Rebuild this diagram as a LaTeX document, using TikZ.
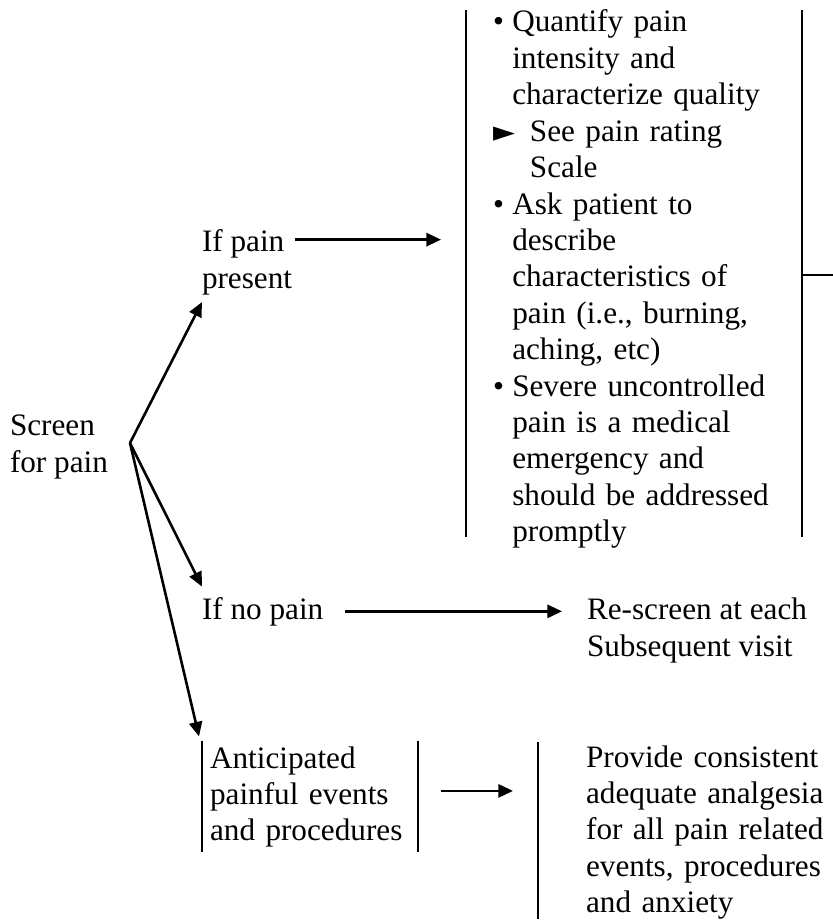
\documentclass[tikz,border=0pt]{standalone}
\usepackage{fontspec}
\setmainfont{Liberation Serif}
\newfontfamily\symfont{DejaVu Sans}
\usepackage{tikz}
\usetikzlibrary{positioning}
\usetikzlibrary{arrows.meta,calc}
\tikzstyle{line} = [draw, line width=1pt, color=black, -{Triangle[length=5.6pt,width=5pt]}]
\tikzstyle{bar} = [draw, line width=0.9pt, color=black]
\newcommand{\bul}{\makebox[7.4pt][l]{\textbullet}}
\newcommand{\ind}{\hspace*{7.4pt}}
\newcommand{\tri}{\makebox[14.2pt][l]{{\symfont\fontsize{11}{11}\selectfont ►}}}
\newcommand{\indd}{\hspace*{14.2pt}}

\begin{document}
\begin{tikzpicture}[x=0.3846pt,y=-0.3846pt,outer sep=0pt,
txt/.style={
  font=\fontsize{12}{14}\selectfont,
  align=left,
  inner sep=0pt,
  anchor=base west},
boxed/.style={txt, inner ysep=1.9pt, inner xsep=3.1pt, text width=76.9pt},
]
\useasboundingbox (0,0) rectangle (833,924);
% left side (base = last line)
\node[txt] (screen) at (10,472) {Screen\\for pain};
\coordinate (fork) at (130,443);
\node[txt] (ifpain) at (202,288) {If pain\\present};
\node[txt] (nopain) at (202,619) {If no pain};
\node[boxed] (anticip) at (202,768) {Anticipated\\painful events\\and procedures};
% right side
\node[txt, inner xsep=10.4pt, text width=108.5pt] (assess) at (466,32) {%
\bul Quantify pain\\
\ind intensity and\\
\ind characterize quality\\
\tri See pain rating\\
\indd Scale\\
\bul Ask patient to\\
\ind describe\\
\ind characteristics of\\
\ind pain (i.e., burning,\\
\ind aching, etc)\\
\bul Severe uncontrolled\\
\ind pain is a medical\\
\ind emergency and\\
\ind should be addressed\\
\ind promptly};
\node[txt] (rescreen) at (587,656) {Re-screen at each\\Subsequent visit};
\node[txt, inner xsep=18.5pt, text width=96pt] (provide) at (538,767) {Provide consistent\\adequate analgesia\\for all pain related\\events, procedures\\and anxiety};
\coordinate (p1) at ([shift={(3,10)}]ifpain.north east);
\coordinate (p2) at ([yshift=2.3pt]anticip.east);
\coordinate (out) at (833,275);

% bars
\draw[bar] (assess.north west) -- ([yshift=4.2pt]assess.south west);
\draw[bar] (assess.north east) -- ([yshift=4.2pt]assess.south east);
\draw[bar] (assess.east |- out) -- (out);
\draw[bar] (anticip.north west) -- (anticip.south west);
\draw[bar] (anticip.north east) -- (anticip.south east);
\draw[bar] ([yshift=1.2pt]provide.north west) -- (provide.south west);

% arrows
\path [line] (fork) -- ([yshift=-5.4pt]ifpain.base west);
\path [line] (fork) -- ([yshift=4pt]nopain.north west);
\path [line] (fork) -- ([shift={(-3,-5)}]anticip.north west);
\path [line, shorten >=9.6pt] (p1) -- (p1 -| assess.west);
\path [line, shorten <=8.5pt, shorten >=9.6pt] (nopain.east) -- (nopain.east -| rescreen.west);
\path [line, shorten <=8.8pt, shorten >=9.6pt] (p2) -- (p2 -| provide.west);
\end{tikzpicture}
\end{document}
